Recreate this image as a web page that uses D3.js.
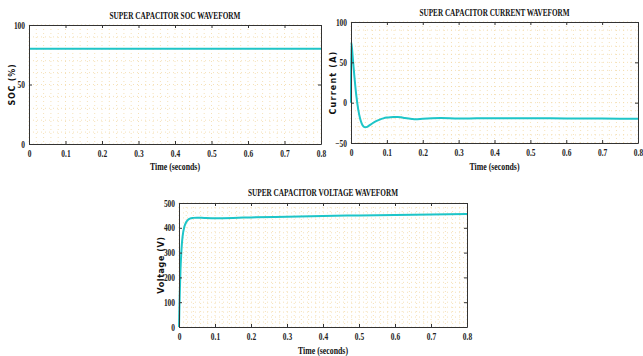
<!DOCTYPE html>
<html>
<head>
<meta charset="utf-8">
<script src="https://cdn.jsdelivr.net/npm/d3@7"></script>
<style>
  body { margin: 0; background: #fff; }
  svg { display: block; }
  .tick-label { font-family: "Liberation Serif", serif; font-weight: bold; font-size: 9.5px; fill: #222; }
  .title { font-family: "Liberation Serif", serif; font-weight: bold; font-size: 10.5px; fill: #111; }
  .xlabel { font-family: "Liberation Serif", serif; font-weight: bold; font-size: 9.5px; fill: #111; }
  .ylabel { font-family: "DejaVu Sans", sans-serif; font-weight: bold; font-size: 8px; fill: #111; }
</style>
</head>
<body>
<div id="chart"></div>
<script>
// ---- data ----
const timeTicks = [0, 0.1, 0.2, 0.3, 0.4, 0.5, 0.6, 0.7, 0.8]

const socTime = [0, 0.8]
const socValues = [80, 80]
const socTicks = [0, 50, 100]

const currentTime = [0, 0.0005, 0.003, 0.006, 0.01, 0.015, 0.02, 0.025, 0.03, 0.035, 0.04, 0.045, 0.05, 0.06, 0.07, 0.08, 0.09, 0.1, 0.11, 0.12, 0.13, 0.14, 0.15, 0.17, 0.18, 0.2, 0.25, 0.3, 0.35, 0.4, 0.5, 0.6, 0.7, 0.8]
const currentValues = [0, 75, 66, 50, 30, 8, -8, -19, -26, -29.5, -30.5, -30, -28.5, -25.5, -23, -21, -19.5, -18.5, -18, -17.8, -17.7, -18.2, -19, -20.2, -20.5, -19.8, -19, -19.6, -19.4, -19.3, -19.3, -19.5, -19.7, -19.9]
const currentTicks = [-50, 0, 50, 100]

const voltageTime = [0, 0.001, 0.002, 0.004, 0.006, 0.008, 0.01, 0.015, 0.02, 0.025, 0.03, 0.04, 0.05, 0.07, 0.1, 0.15, 0.2, 0.3, 0.4, 0.5, 0.6, 0.7, 0.8]
const voltageValues = [0, 70, 130, 225, 290, 335, 365, 405, 423, 432, 437, 440, 441, 440, 439, 440, 442, 445, 448, 450, 452, 454, 456]
const voltageTicks = [0, 100, 200, 300, 400, 500]

const lineColor = "#1ec5c8"
const gridColor = "#f2d9a6"

const svg = d3.select("#chart").append("svg")
    .attr("width", 643)
    .attr("height", 356)

const drawPanel = (p) => {
    const xScale = d3.scaleLinear().domain([0, 0.8]).range([p.left, p.right])
    const yScale = d3.scaleLinear().domain(p.yDomain).range([p.bottom, p.top])
    const g = svg.append("g")

    // minor dotted grid
    const xMinor = d3.range(0, 0.8001, 0.02)
    const yMinor = d3.range(p.yDomain[0], p.yDomain[1] + 0.001, p.yMinorStep)
    g.selectAll(".gx").data(xMinor).enter().append("line")
        .attr("x1", d => xScale(d)).attr("x2", d => xScale(d))
        .attr("y1", p.top).attr("y2", p.bottom)
        .attr("stroke", gridColor).attr("stroke-width", 0.8)
        .attr("stroke-dasharray", "1,3")
    g.selectAll(".gy").data(yMinor).enter().append("line")
        .attr("x1", p.left).attr("x2", p.right)
        .attr("y1", d => yScale(d)).attr("y2", d => yScale(d))
        .attr("stroke", gridColor).attr("stroke-width", 0.8)
        .attr("stroke-dasharray", "1,3")

    // data line
    const line = d3.line()
        .x(d => xScale(d[0]))
        .y(d => yScale(d[1]))
        .curve(d3.curveMonotoneX)
    g.append("path")
        .datum(d3.zip(p.t, p.v))
        .attr("d", line)
        .attr("fill", "none")
        .attr("stroke", lineColor)
        .attr("stroke-width", 2)

    // box axes with inward ticks
    const bottomAxis = d3.axisBottom(xScale).tickValues(timeTicks).tickSize(-3).tickPadding(6).tickSizeOuter(0)
        .tickFormat(d => d === 0 ? "0" : d3.format(".1f")(d))
    const topAxis = d3.axisTop(xScale).tickValues(timeTicks).tickSize(-3).tickFormat("").tickSizeOuter(0)
    const leftAxis = d3.axisLeft(yScale).tickValues(p.yTicks).tickSize(-3).tickPadding(4).tickSizeOuter(0)
    const rightAxis = d3.axisRight(yScale).tickValues(p.yTicks).tickSize(-3).tickFormat("").tickSizeOuter(0)

    const styleAxis = sel => {
        sel.select(".domain").attr("stroke", "#333").attr("stroke-width", 1)
        sel.selectAll(".tick line").attr("stroke", "#333")
        sel.selectAll(".tick text").attr("class", "tick-label").attr("font-family", null).attr("font-size", null)
            .each(function () {
                // condensed look of the original labels
                const w = this.getComputedTextLength()
                if (w > 0) d3.select(this).attr("textLength", w * 0.78).attr("lengthAdjust", "spacingAndGlyphs")
            })
    }
    g.append("g").attr("transform", `translate(0,${p.bottom})`).call(bottomAxis).call(styleAxis)
    g.append("g").attr("transform", `translate(0,${p.top})`).call(topAxis).call(styleAxis)
    g.append("g").attr("transform", `translate(${p.left},0)`).call(leftAxis).call(styleAxis)
    g.append("g").attr("transform", `translate(${p.right},0)`).call(rightAxis).call(styleAxis)

    // texts
    const cx = (p.left + p.right) / 2
    g.append("text").attr("class", "title")
        .attr("x", cx).attr("y", p.titleY)
        .attr("text-anchor", "middle")
        .attr("textLength", p.titleLen).attr("lengthAdjust", "spacingAndGlyphs")
        .text(p.title)
    g.append("text").attr("class", "xlabel")
        .attr("x", cx).attr("y", p.xLabelY)
        .attr("text-anchor", "middle")
        .attr("textLength", 50).attr("lengthAdjust", "spacingAndGlyphs")
        .text("Time (seconds)")
    g.append("text").attr("class", "ylabel")
        .attr("transform", `translate(${p.yLabelX},${(p.top + p.bottom) / 2}) rotate(-90)`)
        .attr("text-anchor", "middle")
        .attr("letter-spacing", p.yLabelSpacing)
        .text(p.yLabel)
}

drawPanel({
    left: 29, right: 321, top: 25, bottom: 144,
    yDomain: [0, 100], yTicks: socTicks, yMinorStep: 10,
    t: socTime, v: socValues,
    title: "SUPER CAPACITOR SOC WAVEFORM", titleY: 19, titleLen: 131,
    xLabelY: 170, yLabel: "SOC (%)", yLabelX: 15, yLabelSpacing: 0.8
})

drawPanel({
    left: 351, right: 638, top: 22, bottom: 143,
    yDomain: [-50, 100], yTicks: currentTicks, yMinorStep: 10,
    t: currentTime, v: currentValues,
    title: "SUPER CAPACITOR CURRENT WAVEFORM", titleY: 16, titleLen: 150,
    xLabelY: 170, yLabel: "Current (A)", yLabelX: 336, yLabelSpacing: 1.2
})

drawPanel({
    left: 179, right: 467, top: 203, bottom: 327,
    yDomain: [0, 500], yTicks: voltageTicks, yMinorStep: 20,
    t: voltageTime, v: voltageValues,
    title: "SUPER CAPACITOR VOLTAGE WAVEFORM", titleY: 196, titleLen: 150,
    xLabelY: 354, yLabel: "Voltage (V)", yLabelX: 164, yLabelSpacing: 0.6
})
</script>
</body>
</html>
